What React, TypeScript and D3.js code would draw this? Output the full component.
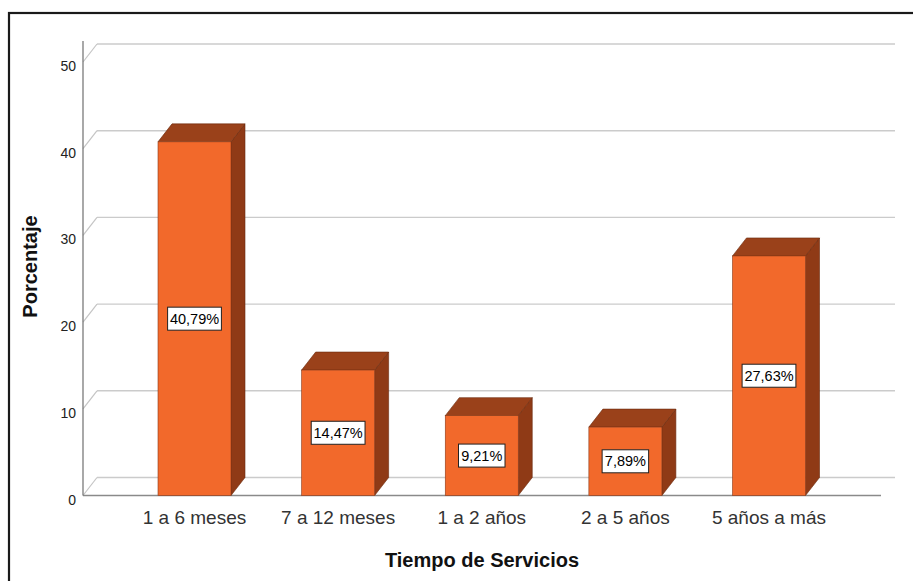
import React from "react";
import * as d3 from "d3";

const categories = ["1 a 6 meses", "7 a 12 meses", "1 a 2 años", "2 a 5 años", "5 años a más"];
const values = [40.79, 14.47, 9.21, 7.89, 27.63];
const valueLabels = ["40,79%", "14,47%", "9,21%", "7,89%", "27,63%"];
const yTicks = [0, 10, 20, 30, 40, 50];

const W = 913;
const H = 581;
const DX = 14;
const DY = -18;
const AXIS_X = 83;
const FLOOR_RIGHT = 881;
const BAR_W = 73;

export default function App() {
  const y = d3.scaleLinear().domain([0, 50]).range([495.5, 62]);
  const x = d3.scalePoint<string>().domain(categories).range([194.5, 769]);
  const y0 = y(0);

  return (
    <svg
      width={W}
      height={H}
      style={{ position: "absolute", left: 0, top: 0, background: "#fff" }}
      fontFamily="'Liberation Sans', Arial, sans-serif"
    >
      <rect x={0} y={0} width={W} height={H} fill="#fff" />
      {/* frame */}
      <rect x={9} y={13} width={1000} height={1000} fill="none" stroke="#1a1a1a" strokeWidth={2.2} />

      {/* back grid lines and diagonals */}
      {yTicks.map((t) => (
        <g key={"g" + t}>
          <line
            x1={AXIS_X + DX}
            x2={FLOOR_RIGHT + DX}
            y1={y(t) + DY}
            y2={y(t) + DY}
            stroke="#cbcbcb"
            strokeWidth={1.4}
          />
          <line
            x1={AXIS_X}
            x2={AXIS_X + DX}
            y1={y(t)}
            y2={y(t) + DY}
            stroke="#c4c4c4"
            strokeWidth={1.2}
          />
        </g>
      ))}

      {/* front baseline */}
      <line x1={AXIS_X} x2={FLOOR_RIGHT} y1={y0} y2={y0} stroke="#8a8a8a" strokeWidth={1.3} />

      {/* bars */}
      {categories.map((c, i) => {
        const cx = x(c) as number;
        const x0 = cx - BAR_W / 2;
        const x1 = cx + BAR_W / 2;
        const yt = y(values[i]);
        const top = `${x0},${yt} ${x0 + DX},${yt + DY} ${x1 + DX},${yt + DY} ${x1},${yt}`;
        const side = `${x1},${yt} ${x1 + DX},${yt + DY} ${x1 + DX},${y0 + DY} ${x1},${y0}`;
        return (
          <g key={c}>
            <polygon points={side} fill="#8f3a16" stroke="#6a2a0e" strokeWidth={0.6} />
            <polygon points={top} fill="#9a411a" stroke="#6a2a0e" strokeWidth={0.6} />
            <rect x={x0} y={yt} width={BAR_W} height={y0 - yt} fill="#f2692b" stroke="#8a3a18" strokeWidth={0.6} />
          </g>
        );
      })}

      {/* y axis line */}
      <line x1={AXIS_X} x2={AXIS_X} y1={41} y2={y0} stroke="#7a7a7a" strokeWidth={1.3} />

      {/* y tick labels */}
      {yTicks.map((t) => (
        <text key={"t" + t} x={76} y={y(t) + 9} textAnchor="end" fontSize={14} fill="#222">
          {t}
        </text>
      ))}

      {/* value labels */}
      {categories.map((c, i) => {
        const cx = x(c) as number;
        const cy = y(values[i] / 2);
        const bw = valueLabels[i].length * 7.3 + 10;
        const bh = 23;
        return (
          <g key={"l" + c}>
            <rect x={cx - bw / 2} y={cy - bh / 2} width={bw} height={bh} fill="#fff" stroke="#222" strokeWidth={1} />
            <text x={cx} y={cy + 5} textAnchor="middle" fontSize={14.5} fill="#000">
              {valueLabels[i]}
            </text>
          </g>
        );
      })}

      {/* x category labels */}
      {categories.map((c) => (
        <text key={"x" + c} x={x(c) as number} y={524} textAnchor="middle" fontSize={19} fill="#333">
          {c}
        </text>
      ))}

      {/* axis titles */}
      <text x={482} y={567} textAnchor="middle" fontSize={20} fontWeight="bold" fill="#111">
        Tiempo de Servicios
      </text>
      <text
        transform="translate(37,266.5) rotate(-90)"
        textAnchor="middle"
        fontSize={20}
        fontWeight="bold"
        fill="#111"
      >
        Porcentaje
      </text>
    </svg>
  );
}
